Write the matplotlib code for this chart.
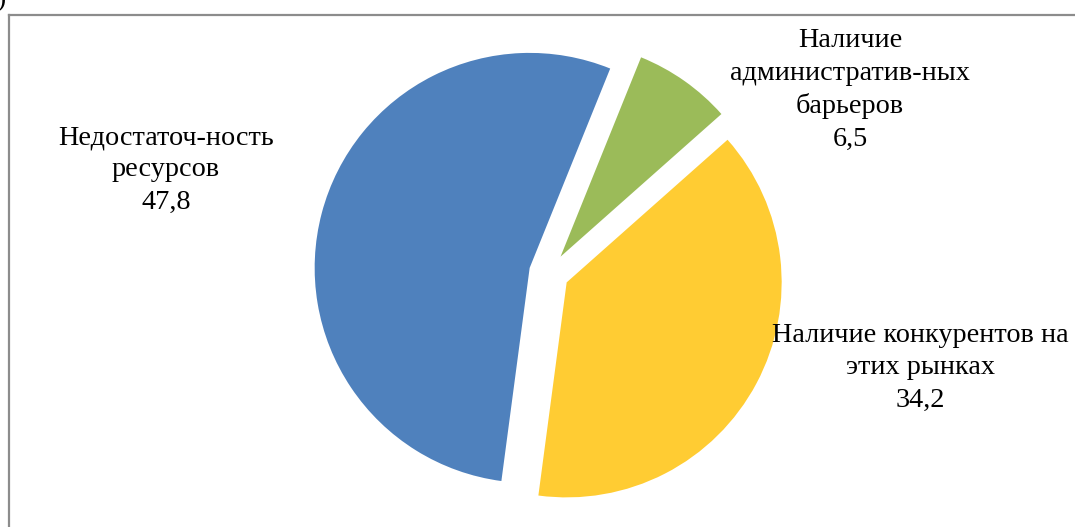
import matplotlib.pyplot as plt
from matplotlib.lines import Line2D

# данные
labels = ["Недостаточ-ность\nресурсов", "Наличие конкурентов на\nэтих рынках", "Наличие\nадминистратив-ных\nбарьеров"]
values = [47.8, 34.2, 6.5]
colors = ["#4F81BD", "#FFCC33", "#9BBB59"]
label_pos = [(166, 170), (920, 368), (850, 90)]  # центр подписи, пиксели (y сверху)

W, H = 1075, 527
plt.rcParams['font.family'] = ['Liberation Serif', 'DejaVu Serif']

fig = plt.figure(figsize=(W / 100, H / 100), dpi=100)
ax = fig.add_axes([0, 0, 1, 1])

# explode в matplotlib задаётся в единицах данных (здесь пиксели)
ax.pie(values, colors=colors, startangle=68, counterclock=True,
       explode=[20] * len(values), center=(549, H - 273), radius=215,
       wedgeprops=dict(linewidth=0))

for lab, val, (x, y) in zip(labels, values, label_pos):
    txt = lab + "\n" + f"{val:.1f}".replace(".", ",")
    ax.text(x, H - y, txt, ha='center', va='center', fontsize=20.3,
            linespacing=1.39, color='black')

ax.set_xlim(0, W)
ax.set_ylim(0, H)
ax.set_aspect('equal')
ax.axis('off')

# рамка области диаграммы (обрезана справа и снизу)
fig.add_artist(Line2D([9 / W, 1], [1 - 15 / H, 1 - 15 / H], color='#8C8C8C', lw=1.6))
fig.add_artist(Line2D([9 / W, 9 / W], [0, 1 - 15 / H], color='#8C8C8C', lw=1.6))

# обрезанный фрагмент подписи «б)» в левом верхнем углу
fig.text(5 / W, 1 - 6 / H, ")", ha='right', va='baseline', fontsize=20)

fig.savefig("out.png", dpi=100)
